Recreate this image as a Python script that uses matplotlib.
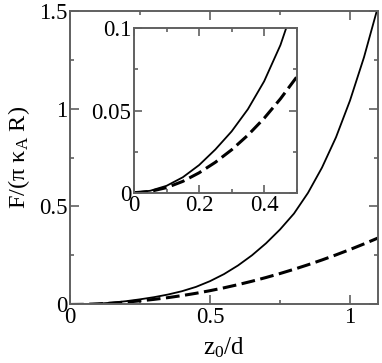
import numpy as np
import matplotlib
matplotlib.use("Agg")
import matplotlib.pyplot as plt
from matplotlib.ticker import MultipleLocator

plt.rcParams['font.family'] = ['Liberation Serif', 'DejaVu Serif']
plt.rcParams['mathtext.fontset'] = 'custom'
plt.rcParams['mathtext.rm'] = 'Liberation Serif'
plt.rcParams['mathtext.it'] = 'Liberation Serif:italic'

# values
z_solid = [0.0, 0.05, 0.10, 0.15, 0.20, 0.25, 0.30, 0.35, 0.40, 0.45, 0.50,
           0.55, 0.60, 0.65, 0.70, 0.75, 0.80, 0.85, 0.90, 0.95, 1.00, 1.05, 1.10]
f_solid = [0.0, 0.0012, 0.0042, 0.0094, 0.0168, 0.0263, 0.0373, 0.0508, 0.0678,
           0.0898, 0.119, 0.155, 0.199, 0.251, 0.312, 0.3825, 0.464, 0.5695,
           0.6985, 0.853, 1.0405, 1.2615, 1.52]

z_dash = [0.0, 0.05, 0.10, 0.15, 0.20, 0.25, 0.30, 0.35, 0.40, 0.45, 0.50,
          0.55, 0.60, 0.65, 0.70, 0.75, 0.80, 0.85, 0.90, 0.95, 1.00, 1.05, 1.10]
f_dash = [0.0, 0.0008, 0.0031, 0.0069, 0.0121, 0.0185, 0.0261, 0.0350, 0.0453,
          0.0571, 0.0704, 0.0851, 0.1012, 0.1187, 0.1376, 0.1579, 0.1796,
          0.2027, 0.2272, 0.2531, 0.2804, 0.3091, 0.3392]

spine_col = '#606060'
dash_style = (4.5, 1.8)

fig = plt.figure(figsize=(3.82, 3.63), dpi=100)
ax = fig.add_axes([0.1832, 0.1612, 0.8063, 0.8098])

ax.plot(z_solid, f_solid, color='black', lw=1.3)
ax.plot(z_dash, f_dash, color='black', lw=2.2, dashes=dash_style)
ax.set_xlim(0, 1.1)
ax.set_ylim(0, 1.5)
ax.set_xticks([0, 0.5, 1])
ax.set_xticklabels(['0', '0.5', '1'])
ax.xaxis.set_minor_locator(MultipleLocator(0.25))
ax.set_yticks([0, 0.5, 1, 1.5])
ax.set_yticklabels(['0', '0.5', '1', '1.5'])
ax.yaxis.set_minor_locator(MultipleLocator(0.25))
ax.tick_params(which='both', direction='in', top=True, right=True,
               labelsize=16.5, color=spine_col, width=1.2)
ax.tick_params(which='major', length=6.5, pad=2)
ax.tick_params(which='minor', length=3)
for s in ax.spines.values():
    s.set_color(spine_col)
    s.set_linewidth(1.4)
ax.set_xlabel(r'z$_0$/d', fontsize=18, labelpad=5)
ax.set_ylabel(r'F/(π κ$_{\rm A}$ R)', fontsize=17.5, labelpad=5)

# inset
ins = fig.add_axes([0.3508, 0.4691, 0.4259, 0.4529])
ins.plot(z_solid, f_solid, color='black', lw=1.3)
ins.plot(z_dash, f_dash, color='black', lw=2.2, dashes=dash_style)
ins.set_xlim(0, 0.5)
ins.set_ylim(0, 0.1)
ins.set_xticks([0, 0.2, 0.4])
ins.set_xticklabels(['0', '0.2', '0.4'])
ins.xaxis.set_minor_locator(MultipleLocator(0.1))
ins.set_yticks([0, 0.05, 0.1])
ins.set_yticklabels(['0', '0.05', '0.1'])
ins.yaxis.set_minor_locator(MultipleLocator(0.025))
ins.tick_params(which='both', direction='in', top=True, right=True,
                labelsize=16.5, color=spine_col, width=1.2)
ins.tick_params(which='major', length=6, pad=2)
ins.tick_params(which='minor', length=3)
for s in ins.spines.values():
    s.set_color(spine_col)
    s.set_linewidth(1.4)

fig.savefig('out.png', dpi=100)
